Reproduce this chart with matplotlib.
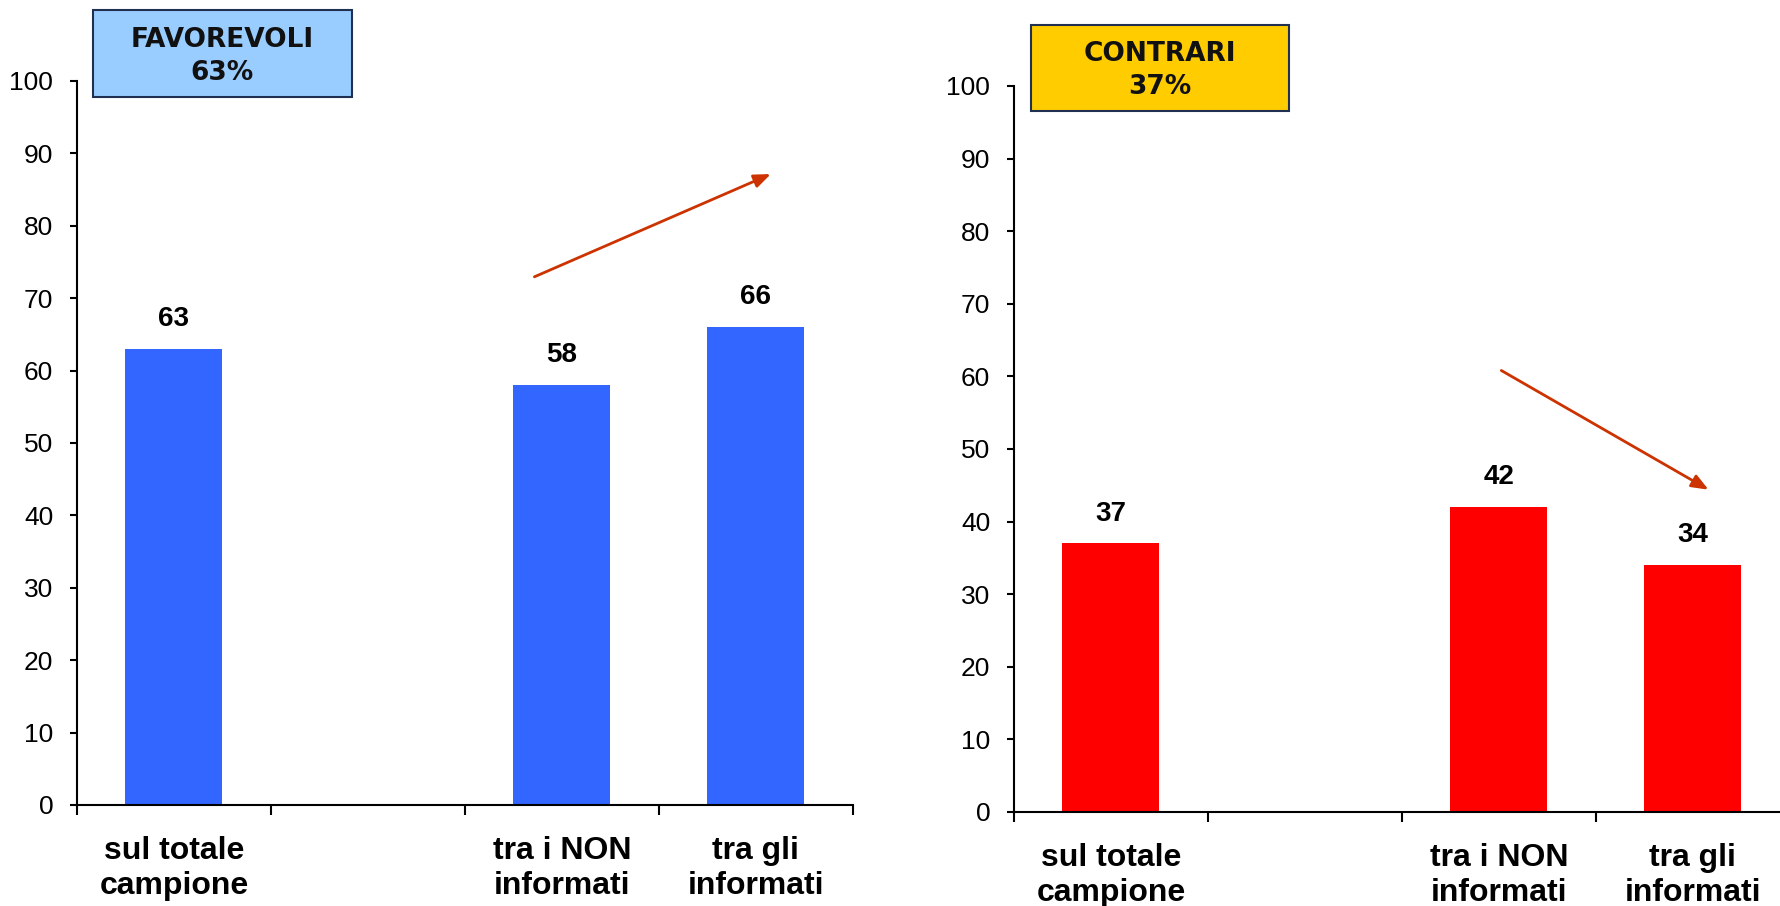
import matplotlib.pyplot as plt
from matplotlib.patches import Rectangle

plt.rcParams['font.family'] = ['Liberation Sans', 'DejaVu Sans']

# Group labels (second slot is left empty on purpose)
categories = ["sul totale\ncampione", "", "tra i NON\ninformati", "tra gli\ninformati"]
bar_slots = [0, 2, 3]
favorevoli = [63, 58, 66]
contrari = [37, 42, 34]
titles = ["FAVOREVOLI\n63%", "CONTRARI\n37%"]

fig = plt.figure(figsize=(17.81, 9.06), dpi=100)

panels = [
    # axes rect, values, bar colour, title box (x, y, w, h), box colour, arrow (start, end)
    ([0.0432, 0.1115, 0.4357, 0.7991], favorevoli, "#3366FF",
     (93, 10, 259, 87), "#99CCFF", ((1.845, 72.8), (3.09, 87.3))),
    ([0.5693, 0.1038, 0.4357, 0.8013], contrari, "#FF0000",
     (1031, 25, 258, 86), "#FFCC00", ((2.0, 61.0), (3.093, 44.2))),
]

W, H = 1781, 906
for (rect, values, color, box, box_color, arrow), title in zip(panels, titles):
    ax = fig.add_axes(rect)
    ax.bar(bar_slots, values, width=0.5, color=color)
    for x, v in zip(bar_slots, values):
        ax.annotate(str(v), (x, v), xytext=(0, 12), textcoords="offset points",
                    ha="center", va="bottom", fontsize=20, fontweight="bold")

    ax.set_xlim(-0.5, 3.5)
    ax.set_ylim(0, 100)
    ax.set_yticks(range(0, 101, 10))
    ax.tick_params(axis="y", labelsize=19, length=5, width=1.5, pad=12)

    # boundary ticks on the x axis, labels centred under each group
    ax.set_xticks([-0.5, 0.5, 1.5, 2.5, 3.5])
    ax.set_xticklabels([])
    ax.tick_params(axis="x", which="major", length=7, width=1.5)
    ax.set_xticks(range(len(categories)), minor=True)
    ax.set_xticklabels(categories, minor=True, fontsize=23, fontweight="bold",
                       linespacing=1.25)
    ax.tick_params(axis="x", which="minor", length=0, pad=22)

    for side in ["top", "right"]:
        ax.spines[side].set_visible(False)
    for side in ["left", "bottom"]:
        ax.spines[side].set_linewidth(1.5)

    ax.annotate("", xy=arrow[1], xytext=arrow[0],
                arrowprops=dict(arrowstyle="-|>,head_length=1.0,head_width=0.4",
                                color="#CC3300", lw=2))

    bx, by, bw, bh = box
    fig.add_artist(Rectangle((bx / W, 1 - (by + bh) / H), bw / W, bh / H,
                             transform=fig.transFigure, facecolor=box_color,
                             edgecolor="#1F3050", linewidth=1.5))
    fig.text((bx + bw / 2) / W, 1 - (by + bh / 2) / H - 0.003, title, ha="center",
             va="center", fontsize=19, fontweight="bold", family="DejaVu Sans",
             linespacing=1.35, color="#111111")

fig.savefig("out.png", dpi=100)
